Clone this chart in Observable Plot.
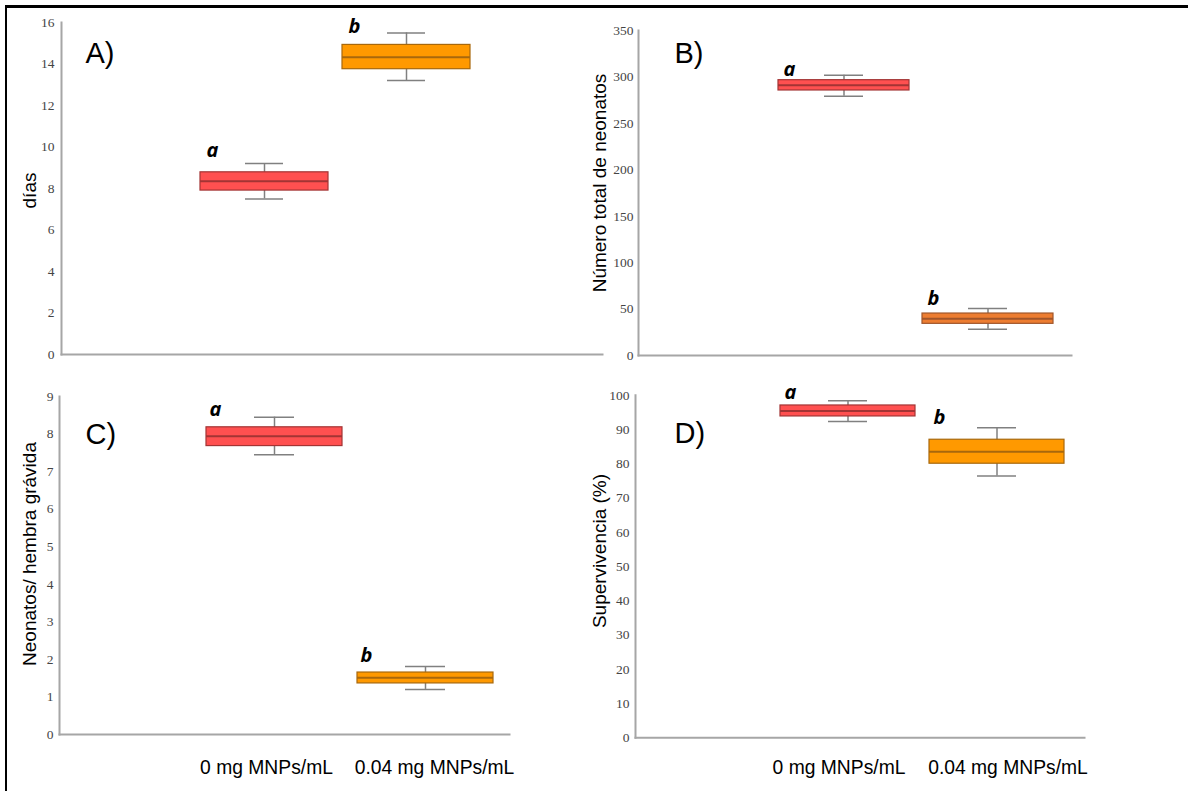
<!DOCTYPE html>
<html><head><meta charset="utf-8">
<script src="https://cdn.jsdelivr.net/npm/d3@7"></script>
<script src="https://cdn.jsdelivr.net/npm/@observablehq/plot@0.6"></script>
<style>
body{margin:0;background:#fff;}
#page{position:relative;width:1188px;height:791px;overflow:hidden;background:#fff;}
#frame{position:absolute;left:5px;top:5px;width:1200px;height:800px;border-top:3px solid #000;border-left:2.5px solid #000;}
#page svg g[aria-label="y-axis tick label"] text{font-family:'Liberation Serif','Times New Roman',serif !important;}
</style></head><body><div id="page"><div id="frame"></div></div>
<script>
// ---- data ----
const categories = ["0 mg MNPs/mL", "0.04 mg MNPs/mL"];
const letters = ["a", "b"];

// A) días
const diasLow = [7.5, 13.2];
const diasQ1 = [7.9, 13.75];
const diasMedian = [8.35, 14.33];
const diasQ3 = [8.78, 14.92];
const diasHigh = [9.2, 15.5];
const diasLetterY = [9.5, 15.5];
const diasTicks = [0, 2, 4, 6, 8, 10, 12, 14, 16];

// B) Número total de neonatos
const totalLow = [279.3, 28.3];
const totalQ1 = [285.4, 34.1];
const totalMedian = [291, 39.5];
const totalQ3 = [296.5, 45.2];
const totalHigh = [301.9, 50.6];
const totalLetterY = [300.5, 54.9];
const totalTicks = [0, 50, 100, 150, 200, 250, 300, 350];

// C) Neonatos/ hembra grávida
const perFemaleLow = [7.45, 1.2];
const perFemaleQ1 = [7.68, 1.36];
const perFemaleMedian = [7.94, 1.51];
const perFemaleQ3 = [8.18, 1.65];
const perFemaleHigh = [8.45, 1.81];
const perFemaleLetterY = [8.49, 1.92];
const perFemaleTicks = [0, 1, 2, 3, 4, 5, 6, 7, 8, 9];

// D) Supervivencia (%)
const survLow = [92.3, 76.4];
const survQ1 = [93.8, 80];
const survMedian = [95.4, 83.5];
const survQ3 = [97, 87];
const survHigh = [98.4, 90.5];
const survLetterY = [99.0, 91.7];
const survTicks = [0, 10, 20, 30, 40, 50, 60, 70, 80, 90, 100];

// ---- panels ----
const RED = "#ff5050", RED_S = "#a33434";
const ORANGE = "#ff9900", ORANGE_S = "#a8680c";
const ORANGE2 = "#ed7d31", ORANGE2_S = "#a0552a";

const panels = [
  {label: "A)", title: "días", low: diasLow, q1: diasQ1, med: diasMedian, q3: diasQ3, high: diasHigh, ly: diasLetterY, ticks: diasTicks, yDomain: [0, 16],
   left: 0, top: 0, width: 615, height: 380, mL: 61, mT: 22, mB: 26, mR: 13, xRange: [200, 470], pad: 14/142, cap: 45, tickPad: 7, letterDx: 6,
   labelDx: 24, labelDy: 40, titleDx: -32, titleDy: 2, fills: [RED, ORANGE], strokes: [RED_S, ORANGE_S], xLabels: false},
  {label: "B)", title: "Número total de neonatos", low: totalLow, q1: totalQ1, med: totalMedian, q3: totalQ3, high: totalHigh, ly: totalLetterY, ticks: totalTicks, yDomain: [0, 350],
   left: 580, top: 0, width: 608, height: 380, mL: 58, mT: 30, mB: 25, mR: 117, xRange: [198, 473], pad: 13/144, cap: 46, tickPad: 5, letterDx: 5,
   labelDx: 36, labelDy: 32, titleDx: -39, titleDy: -10, fills: [RED, ORANGE2], strokes: [RED_S, ORANGE2_S], xLabels: false},
  {label: "C)", title: "Neonatos/ hembra grávida", low: perFemaleLow, q1: perFemaleQ1, med: perFemaleMedian, q3: perFemaleQ3, high: perFemaleHigh, ly: perFemaleLetterY, ticks: perFemaleTicks, yDomain: [0, 9],
   left: 0, top: 380, width: 580, height: 411, mL: 59, mT: 16, mB: 57, mR: 71, xRange: [206, 493], pad: 15/151, cap: 48, tickPad: 6, letterDx: 3,
   labelDx: 26, labelDy: 47, titleDx: -30, titleDy: -11.5, fills: [RED, ORANGE], strokes: [RED_S, ORANGE_S], xLabels: true, xlDy: 39, xlDx: [-8, 9]},
  {label: "D)", title: "Supervivencia (%)", low: survLow, q1: survQ1, med: survMedian, q3: survQ3, high: survHigh, ly: survLetterY, ticks: survTicks, yDomain: [0, 100],
   left: 580, top: 380, width: 608, height: 411, mL: 55, mT: 14.7, mB: 53.7, mR: 104, xRange: [200, 484], pad: 14/149, cap: 48, tickPad: 6, letterDx: 4,
   labelDx: 39, labelDy: 48, titleDx: -36, titleDy: -15.5, fills: [RED, ORANGE], strokes: [RED_S, ORANGE_S], xLabels: true, xlDy: 35.7, xlDx: [-9, 11]}
];

const page = document.getElementById("page");
const SANS = "'Liberation Sans', Arial, sans-serif";

for (const p of panels) {
  const rows = categories.map((c, i) => ({
    cat: c, low: p.low[i], q1: p.q1[i], med: p.med[i], q3: p.q3[i], high: p.high[i],
    letter: letters[i], ly: p.ly[i], fill: p.fills[i], stroke: p.strokes[i]
  }));
  const step = (p.xRange[1] - p.xRange[0]) / (categories.length - p.pad);
  const bw = step * (1 - p.pad);
  const axisColor = "#a6a6a6";
  const marks = [
    Plot.frame({anchor: "left", stroke: axisColor, strokeWidth: 2}),
    Plot.frame({anchor: "bottom", stroke: axisColor, strokeWidth: 2}),
    Plot.axisY({ticks: p.ticks, tickSize: 0, tickPadding: p.tickPad, label: null,
      fontFamily: "'Liberation Serif', 'Times New Roman', serif", fontSize: 13.5, fill: "#444"}),
    Plot.ruleX(rows, {x: "cat", y1: "low", y2: "high", stroke: "#808080", strokeWidth: 1.5}),
    Plot.tickY(rows, {x: "cat", y: "low", inset: p.cap, stroke: "#808080", strokeWidth: 1.5}),
    Plot.tickY(rows, {x: "cat", y: "high", inset: p.cap, stroke: "#808080", strokeWidth: 1.5}),
    Plot.barY(rows, {x: "cat", y1: "q1", y2: "q3", fill: d => d.fill, stroke: d => d.stroke, strokeWidth: 1.2}),
    Plot.tickY(rows, {x: "cat", y: "med", stroke: d => d.stroke, strokeWidth: 2}),
    Plot.text(rows, {x: "cat", y: "ly", text: "letter", textAnchor: "start", lineAnchor: "bottom",
      dx: -bw / 2 + p.letterDx, fontSize: 20, fontWeight: "bold", fontStyle: "italic",
      fontFamily: "'Open Sans', 'Noto Sans', sans-serif", fill: "#000"}),
    Plot.text([p.label], {frameAnchor: "top-left", text: d => d, textAnchor: "start", lineAnchor: "bottom",
      dx: p.labelDx, dy: p.labelDy, fontSize: 29, fontFamily: SANS, fill: "#000"}),
    Plot.text([p.title], {frameAnchor: "left", text: d => d, rotate: -90, textAnchor: "middle", lineAnchor: "middle",
      dx: p.titleDx, dy: p.titleDy, fontSize: 19, fontFamily: SANS, fill: "#000"})
  ];
  if (p.xLabels) {
    categories.forEach((c, i) => {
      marks.push(Plot.text([c], {x: d => d, text: d => d, frameAnchor: "bottom", textAnchor: "middle", lineAnchor: "bottom",
        dx: p.xlDx[i], dy: p.xlDy, fontSize: 19.3, fontFamily: SANS, fill: "#000"}));
    });
  }
  const svg = Plot.plot({
    width: p.width, height: p.height,
    marginLeft: p.mL, marginTop: p.mT, marginBottom: p.mB, marginRight: p.mR,
    x: {domain: categories, range: p.xRange, paddingInner: p.pad, paddingOuter: 0, axis: null},
    y: {domain: p.yDomain, axis: null},
    style: {position: "absolute", left: p.left + "px", top: p.top + "px", background: "transparent", overflow: "visible", maxWidth: "none"},
    marks
  });
  page.appendChild(svg);
}
</script>
</body></html>
